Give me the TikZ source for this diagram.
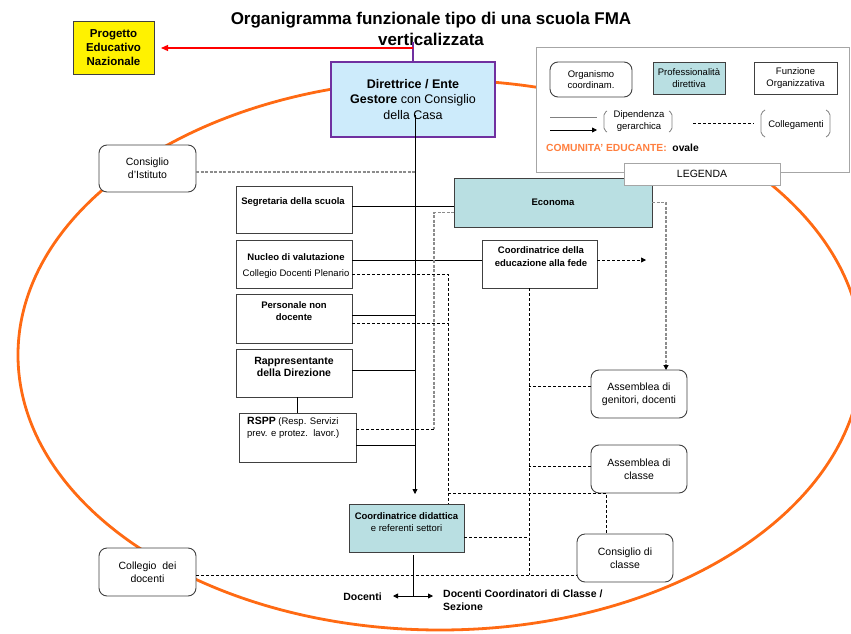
\documentclass[tikz,border=0pt]{standalone}
\usepackage{fontspec}
\setmainfont{Liberation Sans}
\usetikzlibrary{arrows.meta}
\definecolor{tealf}{HTML}{B9DFE2}
\definecolor{dirf}{HTML}{CDEBFB}
\definecolor{purp}{HTML}{7030A0}
\definecolor{orng}{HTML}{FF6A13}
\definecolor{orngt}{HTML}{FF7F3F}
\definecolor{bord}{HTML}{404040}
\definecolor{legb}{HTML}{A6A6A6}
\definecolor{dgray}{HTML}{8C8C8C}
\begin{document}
\begin{tikzpicture}[x=1pt,y=-1pt,
  box/.style={draw=bord, line width=0.9pt, fill=white, anchor=north west, inner sep=0pt, outer sep=0pt},
  rbox/.style={box, rounded corners=8pt},
  tbold/.style={font=\bfseries\fontsize{9.5}{12.5}\selectfont, align=center, inner sep=0pt},
  treg/.style={font=\fontsize{10.5}{13}\selectfont, align=center, inner sep=0pt},
  tleg/.style={font=\fontsize{9.5}{11.5}\selectfont, align=center, inner sep=0pt},
  conn/.style={draw=black, line width=0.8pt},
  dashk/.style={draw=black, line width=0.7pt, dash pattern=on 3pt off 2pt},
  dashg/.style={draw=dgray, line width=1.2pt, dash pattern=on 3pt off 1.5pt},
  tip/.style={-{Triangle[length=5pt,width=5pt,color=black]}}]
\useasboundingbox (0,0) rectangle (851,634);
% community ellipse
\draw[orng, line width=2.8pt] (440,355) ellipse [x radius=422, y radius=275];
% title
\node[font=\bfseries\fontsize{17}{21}\selectfont, align=center, inner sep=0pt] (title) at (431,28.5)
  {Organigramma funzionale tipo di una scuola FMA\\verticalizzata};
% Progetto educativo
\node[box, fill=yellow, minimum width=81, minimum height=53, font=\bfseries\fontsize{11.5}{14}\selectfont, align=center] (pen) at (73,21)
  {Progetto\\Educativo\\Nazionale};
% Direttrice
\node[box, fill=dirf, draw=purp, line width=2.4pt, minimum width=164, minimum height=75, font=\fontsize{12.5}{15.5}\selectfont, align=center] (dir) at (331,62)
  {\textbf{Direttrice / Ente}\\\textbf{Gestore} con Consiglio\\della Casa};
\coordinate (rtop) at (413,42);
\coordinate (rj) at (413,48);
\draw[purp, line width=1.3pt] (rtop) -- (rtop |- dir.north);
\draw[red, line width=1.3pt, -{Triangle[length=7pt,width=6pt]}, shorten >=7pt] (rj) -- (rj -| pen.east);
% boxes
\node[rbox, minimum width=97, minimum height=47, treg] (cdi) at (99,145) {Consiglio\\d’Istituto};
\node[box, minimum width=116, minimum height=47] (segr) at (236,186) {};
\node[tbold] (segrT) at (293,202) {Segretaria della scuola};
\node[box, fill=tealf, minimum width=198, minimum height=49, tbold] (econ) at (454,178) {Economa};
\node[box, minimum width=116, minimum height=48] (nucl) at (236,240) {};
\node[tbold] (nuclT) at (296,257) {Nucleo di valutazione};
\node[treg, font=\fontsize{9.5}{12}\selectfont] (nuclT2) at (296,274) {Collegio Docenti Plenario};
\node[box, minimum width=115, minimum height=48] (ced) at (482,240) {};
\node[tbold] (cedT) at (541,256.5) {Coordinatrice della\\educazione alla fede};
\node[box, minimum width=116, minimum height=49] (pers) at (236,294) {};
\node[tbold] (persT) at (294,311) {Personale non\\docente};
\node[box, minimum width=116, minimum height=48] (rapp) at (236,349) {};
\node[tbold, font=\bfseries\fontsize{10.5}{12.5}\selectfont] (rappT) at (294,367) {Rappresentante\\della Direzione};
\node[box, minimum width=117, minimum height=49] (rspp) at (239,413) {};
\node[inner sep=0pt, anchor=north west, align=left, font=\fontsize{9.5}{11.5}\selectfont] (rsppT) at (247,417)
  {{\fontsize{10.5}{11.5}\selectfont\bfseries RSPP} (Resp. Servizi\\prev. e protez.\ \ lavor.)};
\node[rbox, minimum width=96, minimum height=48, treg] (ag) at (591,370) {Assemblea di\\genitori, docenti};
\node[rbox, minimum width=96, minimum height=48, treg] (ac) at (591,445) {Assemblea di\\classe};
\node[box, fill=tealf, minimum width=115, minimum height=48] (cdid) at (349,504) {};
\node[tbold] (cdidT) at (406.5,516) {Coordinatrice didattica};
\node[treg, font=\fontsize{9.5}{12}\selectfont] (cdidT2) at (406.5,528.5) {e referenti settori};
\node[rbox, minimum width=97, minimum height=48, treg] (coll) at (99,548) {Collegio \ dei\\docenti};
\node[rbox, minimum width=96, minimum height=48, treg] (cdc) at (577,534) {Consiglio di\\classe};
\node[font=\bfseries\fontsize{10.5}{13}\selectfont, inner sep=0pt, anchor=east] (doc) at (382,596.5) {Docenti};
\node[font=\bfseries\fontsize{10.5}{13.5}\selectfont, inner sep=0pt, anchor=west, align=left] (docc) at (443,600)
  {Docenti Coordinatori di Classe /\\Sezione};
% spine
\coordinate (spine) at (415,115);
\draw[conn, tip, shorten >=10pt] (spine) -- (spine |- cdid.north);
% solid connectors
\draw[conn] ([yshift=3.5pt]segr.east) -- ([yshift=3.5pt]segr.east -| econ.west);
\draw[conn] ([yshift=4pt]nucl.east) -- ([yshift=4pt]nucl.east -| ced.west);
\draw[conn] ([yshift=3.5pt]pers.east) -- ([yshift=3.5pt]pers.east -| spine);
\draw[conn] ([yshift=3pt]rapp.east) -- ([yshift=3pt]rapp.east -| spine);
\draw[conn] ([yshift=-7.5pt]rspp.east) -- ([yshift=-7.5pt]rspp.east -| spine);
\draw[conn] (rapp.south -| rspp.north) -- (rspp.north);
% dashed connectors
\draw[dashg] ([yshift=-3.5pt]cdi.east) -- ([yshift=-3.5pt]cdi.east -| spine);
\coordinate (gx) at (434,429);
\draw[dashg] ([yshift=-10pt]econ.west) -| (gx);
\draw[dashk] (gx) -- (gx -| rspp.east);
\coordinate (bx) at (448,493);
\coordinate (cx) at (606,493);
\draw[dashk] ([yshift=-10pt]nucl.east) -| (bx |- cdid.north);
\draw[dashk] ([yshift=-4.5pt]pers.east) -- ([yshift=-4.5pt]pers.east -| bx);
\draw[dashk] (bx) -- (cx) -- (cx |- cdc.north);
\coordinate (ex) at (529,575);
\draw[dashk] (ex |- ced.south) -- (ex);
\draw[dashk] ([yshift=8pt]ag.west) -- ([yshift=8pt]ag.west -| ex);
\draw[dashk] ([yshift=3pt]ac.west) -- ([yshift=3pt]ac.west -| ex);
\draw[dashk] ([yshift=-9pt]cdid.east) -- ([yshift=-9pt]cdid.east -| ex);
\draw[dashk] ([yshift=-3pt]coll.east) -- ([yshift=-3pt]coll.east -| cdc.west);
\coordinate (cedA) at (646,260);
\draw[dashk, tip] ([yshift=4pt]ced.east) -- (cedA);
\draw[dashg, tip] (econ.east) -| ([xshift=27pt]ag.north);
% docenti arrows
\coordinate (dj) at (413,596);
\coordinate (docL) at (393,596);
\coordinate (docR) at (433,596);
\draw[conn] ([yshift=-3pt]dj |- cdid.south) -- (dj);
\draw[conn, tip] (dj) -- (docL);
\draw[conn, tip] (dj) -- (docR);
% legend
\node[box, draw=legb, line width=1pt, minimum width=313, minimum height=124] (leg) at (536,48) {};
\node[rbox, minimum width=82, minimum height=35, tleg] (lorg) at (550,62) {Organismo\\coordinam.};
\node[box, fill=tealf, minimum width=72, minimum height=32, tleg] (lprof) at (653,62) {Professionalità\\direttiva};
\node[box, minimum width=83, minimum height=32, tleg] (lfun) at (754,62) {Funzione\\Organizzativa};
\draw[draw=gray, line width=0.9pt] (550,117) -- (597,117);
\draw[conn, tip] (550,130) -- (597,130);
\draw[draw=gray, line width=0.8pt, rounded corners=2pt] (607,111) -- (604,113) -- (604,130) -- (607,132);
\draw[draw=gray, line width=0.8pt, rounded corners=2pt] (669,111) -- (672,113) -- (672,130) -- (669,132);
\node[tleg, font=\fontsize{9.5}{12}\selectfont] (ldip) at (639,121) {Dipendenza\\gerarchica};
\draw[dashk, line width=0.6pt] (693,123) -- (754,123);
\draw[draw=gray, line width=0.8pt, rounded corners=2pt] (765,110) -- (761,113) -- (761,134) -- (765,137);
\draw[draw=gray, line width=0.8pt, rounded corners=2pt] (826,110) -- (830,113) -- (830,134) -- (826,137);
\node[tleg] (lcol) at (796,125) {Collegamenti};
\node[inner sep=0pt, anchor=west, font=\bfseries\fontsize{10.3}{12}\selectfont] (lcom) at (546,148)
  {\textcolor{orngt}{COMUNITA’ EDUCANTE:}\ \ ovale};
\node[box, draw=legb, line width=1pt, minimum width=156, minimum height=22, font=\fontsize{10.5}{12}\selectfont] (legT) at (624,163) {LEGENDA};
\end{tikzpicture}
\end{document}
